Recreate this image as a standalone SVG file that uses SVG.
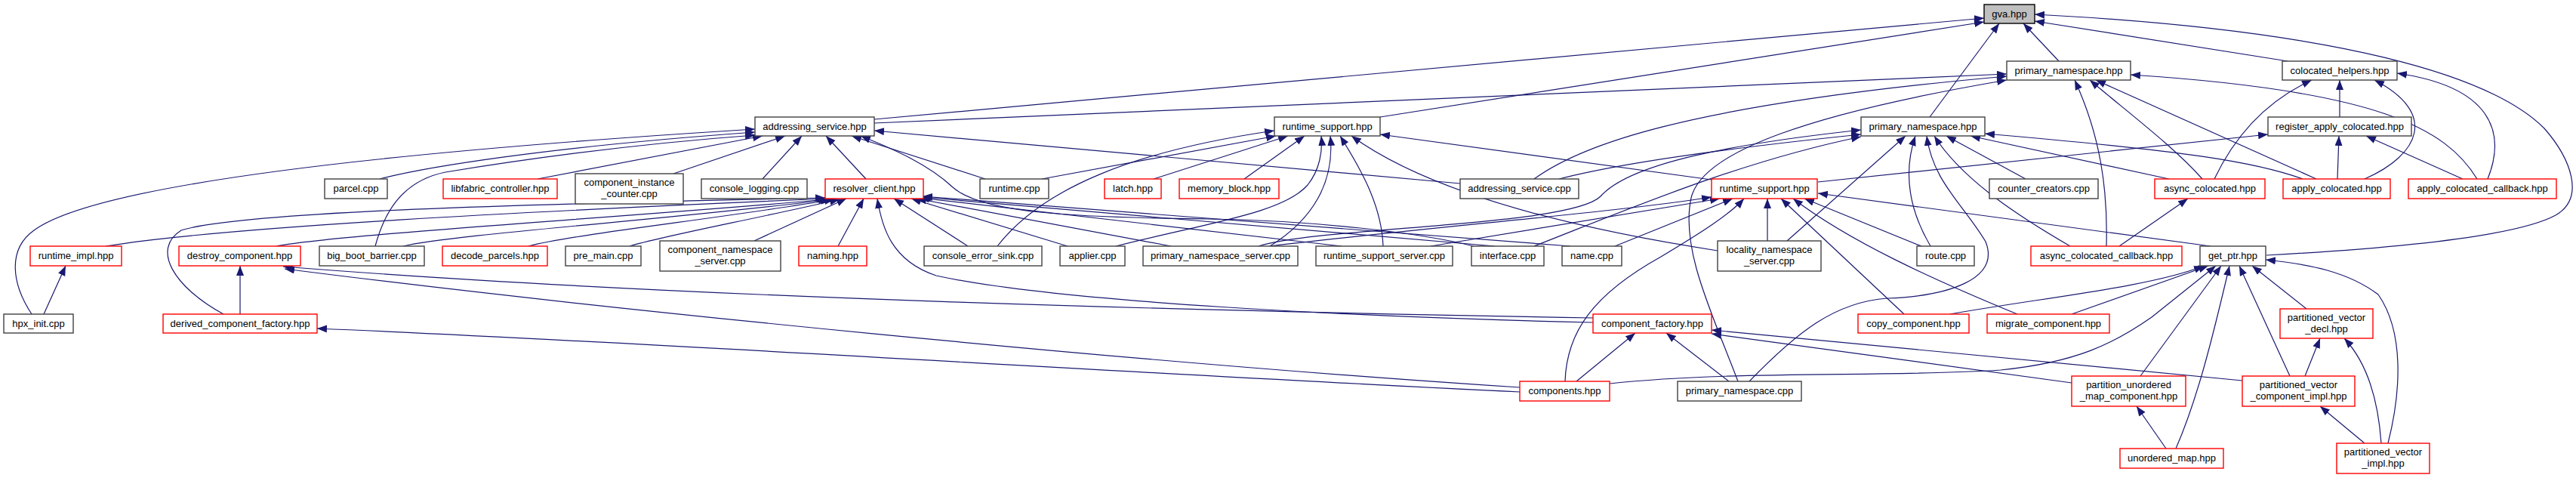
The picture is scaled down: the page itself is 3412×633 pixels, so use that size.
<svg xmlns="http://www.w3.org/2000/svg" width="3412" height="633" viewBox="0 0 3412 633">
<style>
.n rect{fill:#fff;stroke:#404040;stroke-width:1.4}
.r rect{stroke:#ff0000}
.g rect{fill:#bfbfbf;stroke:#000}
text{font-family:"Liberation Sans",Arial,sans-serif;font-size:13px;text-anchor:middle;fill:#000}
#edges path{fill:none;stroke:#191970;stroke-width:1.2;marker-end:url(#a)}
</style>
<defs>
<marker id="a" markerUnits="userSpaceOnUse" markerWidth="14" markerHeight="11" refX="13" refY="5" orient="auto"><path d="M0,0 L13,5 L0,10 z" fill="#191970"/></marker>
</defs>
<rect width="3412" height="633" fill="#fff"/>
<g id="edges">
<path d="M1158,158 L2628,24"/>
<path d="M1828,155 L2628,29"/>
<path d="M2556,155 L2648,31"/>
<path d="M2727,81 L2680,31"/>
<path d="M3002,338 C3150,330 3330,315 3385,285 C3425,262 3405,210 3370,170 C3300,100 3100,40 2695,19"/>
<path d="M3030,81 L2695,28"/>
<path d="M1158,163 L2658,98"/>
<path d="M2032,237 C2090,195 2220,140 2658,101"/>
<path d="M2302,505 C2270,420 2225,330 2240,262 C2255,200 2400,150 2658,106"/>
<path d="M2790,326 C2792,250 2782,180 2748,106"/>
<path d="M2917,237 C2880,195 2820,150 2768,106"/>
<path d="M3068,237 L2776,106"/>
<path d="M3281,237 C3240,170 3150,120 2822,99"/>
<path d="M2933,237 C2965,170 3010,130 3062,106"/>
<path d="M3099,155 L3099,106"/>
<path d="M3132,237 C3205,205 3230,150 3145,106"/>
<path d="M3295,237 C3320,175 3300,115 3175,97"/>
<path d="M2408,241 L3004,178"/>
<path d="M3096,237 L3098,180"/>
<path d="M3262,237 L3134,180"/>
<path d="M42,416 C15,375 10,330 45,305 C120,250 450,205 1000,171"/>
<path d="M503,237 C560,222 720,195 1000,175"/>
<path d="M497,326 C508,285 530,240 590,228 C700,210 850,190 1000,179"/>
<path d="M712,237 L1010,180"/>
<path d="M892,230 L1040,180"/>
<path d="M1010,237 L1062,180"/>
<path d="M1147,237 L1094,180"/>
<path d="M1305,237 L1128,180"/>
<path d="M1934,243 L1158,173"/>
<path d="M1952,326 C1880,308 1740,292 1600,290 C1420,288 1300,282 1262,248 C1230,218 1185,198 1140,180"/>
<path d="M1321,326 C1380,250 1500,200 1688,173"/>
<path d="M1380,237 L1690,180"/>
<path d="M1528,237 L1706,180"/>
<path d="M1648,237 L1728,180"/>
<path d="M1478,326 C1600,295 1700,282 1732,245 C1748,225 1752,200 1750,180"/>
<path d="M1682,326 C1740,290 1768,240 1762,180"/>
<path d="M1832,326 C1830,270 1800,220 1775,180"/>
<path d="M2267,238 L1828,178"/>
<path d="M2275,332 C2100,305 1900,260 1790,180"/>
<path d="M2367,319 L2524,180"/>
<path d="M2557,326 C2530,280 2520,230 2537,180"/>
<path d="M2317,505 C2380,440 2430,400 2500,395 C2580,392 2650,370 2630,320 C2600,270 2560,240 2552,180"/>
<path d="M2742,326 C2680,290 2600,240 2562,180"/>
<path d="M2683,237 L2578,180"/>
<path d="M2873,237 L2610,180"/>
<path d="M3050,237 C2990,215 2900,200 2629,177"/>
<path d="M2065,237 C2150,215 2300,195 2465,178"/>
<path d="M1667,326 C1750,300 2080,300 2120,260 C2160,215 2300,190 2465,172"/>
<path d="M2032,326 C2150,280 2300,215 2465,181"/>
<path d="M2341,319 L2341,263"/>
<path d="M2522,416 L2359,263"/>
<path d="M2672,416 C2560,370 2450,320 2375,263"/>
<path d="M2545,326 L2390,263"/>
<path d="M2928,326 L2408,256"/>
<path d="M2139,326 L2295,263"/>
<path d="M2073,505 C2075,440 2110,390 2200,340 C2250,310 2290,285 2310,263"/>
<path d="M1682,326 C1900,300 2150,280 2267,261"/>
<path d="M1895,326 L2278,263"/>
<path d="M140,326 C300,300 700,280 1095,263"/>
<path d="M296,416 C230,380 200,330 240,305 C320,280 700,270 1093,262"/>
<path d="M366,326 C450,310 800,290 1097,264"/>
<path d="M534,326 C600,310 900,290 1100,264"/>
<path d="M700,326 C760,310 950,290 1105,264"/>
<path d="M834,326 C880,312 1000,290 1112,264"/>
<path d="M999,319 L1121,263"/>
<path d="M1110,326 L1144,263"/>
<path d="M1282,326 L1184,263"/>
<path d="M1414,326 L1207,263"/>
<path d="M1551,326 L1214,263"/>
<path d="M1777,326 L1218,262"/>
<path d="M1980,326 L1220,261"/>
<path d="M2080,326 L1222,260"/>
<path d="M2110,427 C1800,420 1400,400 1240,365 C1180,345 1168,300 1162,263"/>
<path d="M318,416 L318,352"/>
<path d="M2110,421 C1600,412 900,395 375,353"/>
<path d="M2013,513 C1500,480 800,410 377,356"/>
<path d="M2013,519 C1500,495 900,455 420,435"/>
<path d="M2088,505 L2166,441"/>
<path d="M2290,505 L2207,441"/>
<path d="M2744,507 L2267,442"/>
<path d="M2970,504 L2267,437"/>
<path d="M2583,416 C2700,395 2850,380 2919,352"/>
<path d="M2744,416 L2925,352"/>
<path d="M2132,508 C2300,490 2500,500 2650,490 C2750,480 2800,455 2850,420 L2935,352"/>
<path d="M2835,498 L2942,352"/>
<path d="M2882,594 C2910,530 2930,450 2953,352"/>
<path d="M3033,498 L2966,352"/>
<path d="M3055,409 L2983,352"/>
<path d="M3163,587 C3180,520 3185,440 3150,390 C3110,360 3060,350 3001,344"/>
<path d="M2869,594 L2830,538"/>
<path d="M3053,498 L3073,448"/>
<path d="M3132,587 L3073,538"/>
<path d="M3154,587 C3150,530 3135,480 3105,448"/>
<path d="M2807,326 L2898,263"/>
<path d="M58,416 L87,352"/>
</g>
<g id="gva" class="n g"><rect x="2628" y="6" width="67" height="25"/><text x="2661.5" y="23">gva.hpp</text></g>
<g id="pn_top" class="n"><rect x="2658" y="81" width="164" height="25"/><text x="2740" y="98">primary_namespace.hpp</text></g>
<g id="colocated_helpers" class="n"><rect x="3023" y="81" width="152" height="25"/><text x="3099" y="98">colocated_helpers.hpp</text></g>
<g id="addressing_service_hpp" class="n"><rect x="1000" y="155" width="158" height="25"/><text x="1079" y="172">addressing_service.hpp</text></g>
<g id="runtime_support_b" class="n"><rect x="1688" y="155" width="140" height="25"/><text x="1758" y="172">runtime_support.hpp</text></g>
<g id="pn_mid" class="n"><rect x="2465" y="155" width="164" height="25"/><text x="2547" y="172">primary_namespace.hpp</text></g>
<g id="register_apply_colocated" class="n"><rect x="3004" y="155" width="190" height="25"/><text x="3099" y="172">register_apply_colocated.hpp</text></g>
<g id="parcel" class="n"><rect x="430" y="237" width="83" height="26"/><text x="471.5" y="254">parcel.cpp</text></g>
<g id="libfabric" class="n r"><rect x="587" y="237" width="151" height="26"/><text x="662.5" y="254">libfabric_controller.hpp</text></g>
<g id="cic" class="n"><rect x="762" y="230" width="143" height="40"/><text x="833.5" y="246">component_instance</text><text x="833.5" y="261">_counter.cpp</text></g>
<g id="console_logging" class="n"><rect x="929" y="237" width="140" height="26"/><text x="999" y="254">console_logging.cpp</text></g>
<g id="resolver_client" class="n r"><rect x="1093" y="237" width="130" height="26"/><text x="1158" y="254">resolver_client.hpp</text></g>
<g id="runtime_cpp" class="n"><rect x="1298" y="237" width="91" height="26"/><text x="1343.5" y="254">runtime.cpp</text></g>
<g id="latch" class="n r"><rect x="1463" y="237" width="75" height="26"/><text x="1500.5" y="254">latch.hpp</text></g>
<g id="memory_block" class="n r"><rect x="1562" y="237" width="132" height="26"/><text x="1628" y="254">memory_block.hpp</text></g>
<g id="addressing_service_cpp" class="n"><rect x="1934" y="237" width="157" height="26"/><text x="2012.5" y="254">addressing_service.cpp</text></g>
<g id="runtime_support_r" class="n r"><rect x="2267" y="237" width="140" height="26"/><text x="2337" y="254">runtime_support.hpp</text></g>
<g id="counter_creators" class="n"><rect x="2635" y="237" width="144" height="26"/><text x="2707" y="254">counter_creators.cpp</text></g>
<g id="async_colocated" class="n r"><rect x="2854" y="237" width="146" height="26"/><text x="2927" y="254">async_colocated.hpp</text></g>
<g id="apply_colocated" class="n r"><rect x="3024" y="237" width="142" height="26"/><text x="3095" y="254">apply_colocated.hpp</text></g>
<g id="apply_colocated_callback" class="n r"><rect x="3190" y="237" width="196" height="26"/><text x="3288" y="254">apply_colocated_callback.hpp</text></g>
<g id="runtime_impl" class="n r"><rect x="40" y="326" width="121" height="26"/><text x="100.5" y="343">runtime_impl.hpp</text></g>
<g id="destroy_component" class="n r"><rect x="237" y="326" width="161" height="26"/><text x="317.5" y="343">destroy_component.hpp</text></g>
<g id="big_boot_barrier" class="n"><rect x="423" y="326" width="139" height="26"/><text x="492.5" y="343">big_boot_barrier.cpp</text></g>
<g id="decode_parcels" class="n r"><rect x="586" y="326" width="139" height="26"/><text x="655.5" y="343">decode_parcels.hpp</text></g>
<g id="pre_main" class="n"><rect x="749" y="326" width="100" height="26"/><text x="799" y="343">pre_main.cpp</text></g>
<g id="cns" class="n"><rect x="874" y="319" width="160" height="40"/><text x="954" y="335">component_namespace</text><text x="954" y="350">_server.cpp</text></g>
<g id="naming" class="n r"><rect x="1058" y="326" width="90" height="26"/><text x="1103" y="343">naming.hpp</text></g>
<g id="console_error_sink" class="n"><rect x="1224" y="326" width="156" height="26"/><text x="1302" y="343">console_error_sink.cpp</text></g>
<g id="applier" class="n"><rect x="1404" y="326" width="86" height="26"/><text x="1447" y="343">applier.cpp</text></g>
<g id="pns" class="n"><rect x="1514" y="326" width="205" height="26"/><text x="1616.5" y="343">primary_namespace_server.cpp</text></g>
<g id="rss" class="n"><rect x="1743" y="326" width="181" height="26"/><text x="1833.5" y="343">runtime_support_server.cpp</text></g>
<g id="interface" class="n"><rect x="1949" y="326" width="96" height="26"/><text x="1997" y="343">interface.cpp</text></g>
<g id="name" class="n"><rect x="2069" y="326" width="79" height="26"/><text x="2108.5" y="343">name.cpp</text></g>
<g id="lns" class="n"><rect x="2275" y="319" width="137" height="40"/><text x="2343.5" y="335">locality_namespace</text><text x="2343.5" y="350">_server.cpp</text></g>
<g id="route" class="n"><rect x="2539" y="326" width="76" height="26"/><text x="2577" y="343">route.cpp</text></g>
<g id="async_colocated_callback" class="n r"><rect x="2690" y="326" width="200" height="26"/><text x="2790" y="343">async_colocated_callback.hpp</text></g>
<g id="get_ptr" class="n"><rect x="2914" y="326" width="87" height="26"/><text x="2957.5" y="343">get_ptr.hpp</text></g>
<g id="hpx_init" class="n"><rect x="5" y="416" width="92" height="25"/><text x="51" y="433">hpx_init.cpp</text></g>
<g id="derived_component_factory" class="n r"><rect x="216" y="416" width="204" height="25"/><text x="318" y="433">derived_component_factory.hpp</text></g>
<g id="component_factory" class="n r"><rect x="2110" y="416" width="157" height="25"/><text x="2188.5" y="433">component_factory.hpp</text></g>
<g id="copy_component" class="n r"><rect x="2461" y="416" width="147" height="25"/><text x="2534.5" y="433">copy_component.hpp</text></g>
<g id="migrate_component" class="n r"><rect x="2632" y="416" width="162" height="25"/><text x="2713" y="433">migrate_component.hpp</text></g>
<g id="pv_decl" class="n r"><rect x="3020" y="409" width="123" height="39"/><text x="3081.5" y="425">partitioned_vector</text><text x="3081.5" y="440">_decl.hpp</text></g>
<g id="components" class="n r"><rect x="2013" y="505" width="119" height="26"/><text x="2072.5" y="522">components.hpp</text></g>
<g id="pn_cpp" class="n"><rect x="2222" y="505" width="164" height="26"/><text x="2304" y="522">primary_namespace.cpp</text></g>
<g id="pum" class="n r"><rect x="2744" y="498" width="151" height="40"/><text x="2819.5" y="514">partition_unordered</text><text x="2819.5" y="529">_map_component.hpp</text></g>
<g id="pvci" class="n r"><rect x="2970" y="498" width="149" height="40"/><text x="3044.5" y="514">partitioned_vector</text><text x="3044.5" y="529">_component_impl.hpp</text></g>
<g id="unordered_map" class="n r"><rect x="2808" y="594" width="137" height="26"/><text x="2876.5" y="611">unordered_map.hpp</text></g>
<g id="pvi" class="n r"><rect x="3095" y="587" width="123" height="40"/><text x="3156.5" y="603">partitioned_vector</text><text x="3156.5" y="618">_impl.hpp</text></g>
</svg>
